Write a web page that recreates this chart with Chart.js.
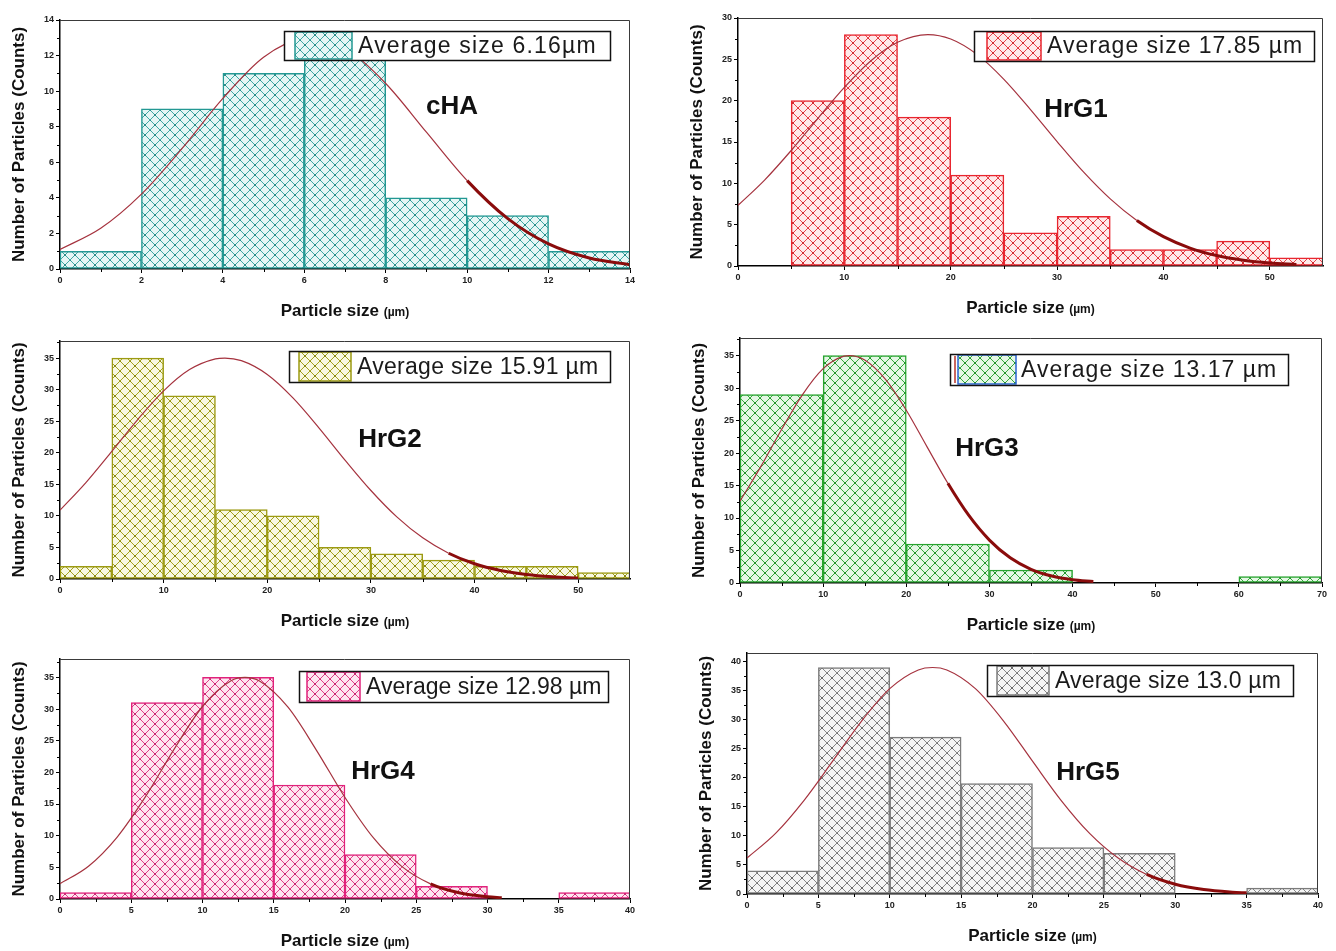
<!DOCTYPE html>
<html>
<head>
<meta charset="utf-8">
<script src="https://cdn.jsdelivr.net/npm/chart.js@4.4.1/dist/chart.umd.min.js"></script>
<style>
  html, body { margin: 0; padding: 0; background: #fff; }
  body { width: 1336px; height: 951px; position: relative; overflow: hidden; }
  canvas { position: absolute; }
</style>
</head>
<body>
<script>
// histogram bins: start of each bin (µm) and particle counts; fit curves
const chaBins = [0, 2, 4, 6, 8, 10, 12];
const chaCounts = [1, 9, 11, 12, 4, 3, 1];
const chaFitX = [0, 1, 2, 3, 4, 5, 6, 6.16, 7, 8, 9, 10, 11, 12, 13, 14];
const chaFitY = [1.10, 2.29, 4.21, 6.78, 9.59, 11.91, 12.98, 13, 12.42, 10.43, 7.69, 4.97, 2.83, 1.41, 0.62, 0.24];

const g1Bins = [5, 10, 15, 20, 25, 30, 35, 40, 45, 50];
const g1Counts = [20, 28, 18, 11, 4, 6, 2, 2, 3, 1];
const g1FitX = [0, 2.5, 5, 7.5, 10, 12.5, 15, 17.85, 20, 22.5, 25, 27.5, 30, 32.5, 35, 37.5, 40, 42.5, 45, 47.5, 50, 52.5];
const g1FitY = [7.33, 10.39, 13.97, 17.84, 21.6, 24.83, 27.06, 28, 27.46, 25.57, 22.58, 18.92, 15.05, 11.35, 8.12, 5.51, 3.55, 2.17, 1.26, 0.69, 0.36, 0.18];

const g2Bins = [0, 5, 10, 15, 20, 25, 30, 35, 40, 45, 50];
const g2Counts = [2, 35, 29, 11, 10, 5, 4, 3, 2, 2, 1];
const g2FitX = [0, 2.5, 5, 7.5, 10, 12.5, 15, 15.91, 17.5, 20, 22.5, 25, 27.5, 30, 32.5, 35, 37.5, 40, 42.5, 45, 47.5, 50];
const g2FitY = [10.9, 15.28, 20.22, 25.26, 29.8, 33.17, 34.87, 35, 34.59, 32.4, 28.65, 23.91, 18.84, 14.02, 9.84, 6.52, 4.08, 2.41, 1.35, 0.71, 0.35, 0.16];

const g3Bins = [0, 10, 20, 30, 60];
const g3Counts = [29, 35, 6, 2, 1];
const g3FitX = [0, 2.5, 5, 7.5, 10, 12.5, 13.17, 15, 17.5, 20, 22.5, 25, 27.5, 30, 32.5, 35, 37.5, 40, 42.5];
const g3FitY = [12.6, 17.9, 23.62, 28.96, 32.99, 34.91, 35, 34.32, 31.34, 26.59, 20.95, 15.34, 10.43, 6.6, 3.87, 2.11, 1.07, 0.5, 0.22];

const g4Bins = [0, 5, 10, 15, 20, 25, 35];
const g4Counts = [1, 31, 35, 18, 7, 2, 1];
const g4FitX = [0, 2, 4, 6, 8, 10, 12, 12.98, 14, 16, 18, 20, 22, 24, 26, 28, 30, 31];
const g4FitY = [2.42, 5.18, 9.75, 16.17, 23.63, 30.4, 34.47, 35, 34.43, 30.29, 23.48, 16.03, 9.64, 5.11, 2.39, 0.98, 0.35, 0.2];

const g5Bins = [0, 5, 10, 15, 20, 25, 35];
const g5Counts = [4, 39, 27, 19, 8, 7, 1];
const g5FitX = [0, 2, 4, 6, 8, 10, 12, 13, 14, 16, 18, 20, 22, 24, 26, 28, 30, 32, 34, 35];
const g5FitY = [6.19, 10.44, 16.14, 22.87, 29.7, 35.36, 38.58, 39, 38.58, 35.36, 29.7, 22.87, 16.14, 10.44, 6.19, 3.36, 1.67, 0.76, 0.32, 0.2];

const FONT = '"Liberation Sans", Arial, sans-serif';

// page layout of each plot box; legend/tag in page pixels
const panels = [
  { tag: 'cHA', bins: chaBins, binW: 2, counts: chaCounts, fitX: chaFitX, fitY: chaFitY, tailFrom: 10,
    avg: 'Average size 6.16µm', color: '#239893', hatch: '#3fa9a5', tint: '#e6f6f5', dot: '#1f7f7b',
    box: { l: 60, r: 630, t: 20, b: 269 }, xMax: 14, xStep: 2, yMax: 14, yStep: 2,
    legend: { l: 284, t: 31, r: 610, b: 60, s0: 295, s1: 352, tx: 358 }, tagAt: { x: 452, y: 107 } },
  { tag: 'HrG1', bins: g1Bins, binW: 5, counts: g1Counts, fitX: g1FitX, fitY: g1FitY, tailFrom: 37.5,
    avg: 'Average size 17.85 µm', color: '#e8262f', hatch: '#e9434a', tint: '#feeaea', dot: '#c41d25',
    box: { l: 738, r: 1323, t: 18, b: 266 }, xMax: 55, xStep: 10, yMax: 30, yStep: 5,
    legend: { l: 974, t: 31, r: 1314, b: 61, s0: 987, s1: 1041, tx: 1047 }, tagAt: { x: 1076, y: 110 } },
  { tag: 'HrG2', bins: g2Bins, binW: 5, counts: g2Counts, fitX: g2FitX, fitY: g2FitY, tailFrom: 37.5,
    avg: 'Average size 15.91 µm', color: '#9c9a12', hatch: '#a4a21f', tint: '#f8f8e2', dot: '#7f7d0c',
    box: { l: 60, r: 630, t: 341, b: 579 }, xMax: 55, xStep: 10, yMax: 37.7, yStep: 5,
    legend: { l: 289, t: 351, r: 610, b: 382, s0: 299, s1: 351, tx: 357 }, tagAt: { x: 390, y: 440 } },
  { tag: 'HrG3', bins: g3Bins, binW: 10, counts: g3Counts, fitX: g3FitX, fitY: g3FitY, tailFrom: 25,
    avg: 'Average size 13.17 µm', color: '#27a32f', hatch: '#34ab3c', tint: '#e6f7e6', dot: '#1b8523',
    swatchEdge: '#2a64d2',
    box: { l: 740, r: 1322, t: 338, b: 583 }, xMax: 70, xStep: 10, yMax: 37.7, yStep: 5,
    legend: { l: 950, t: 354, r: 1288, b: 385, s0: 958, s1: 1016, tx: 1021 }, tagAt: { x: 987, y: 449 } },
  { tag: 'HrG4', bins: g4Bins, binW: 5, counts: g4Counts, fitX: g4FitX, fitY: g4FitY, tailFrom: 26,
    avg: 'Average size 12.98 µm', color: '#e0227b', hatch: '#e23d88', tint: '#fde6f0', dot: '#bd1965',
    box: { l: 60, r: 630, t: 659, b: 899 }, xMax: 40, xStep: 5, yMax: 37.9, yStep: 5,
    legend: { l: 299, t: 671, r: 608, b: 702, s0: 307, s1: 360, tx: 366 }, tagAt: { x: 383, y: 772 } },
  { tag: 'HrG5', bins: g5Bins, binW: 5, counts: g5Counts, fitX: g5FitX, fitY: g5FitY, tailFrom: 28,
    avg: 'Average size 13.0 µm', color: '#7c7c7c', hatch: '#858585', tint: '#f5f5f5', dot: '#5a5a5a',
    box: { l: 747, r: 1318, t: 653, b: 894 }, xMax: 40, xStep: 5, yMax: 41.5, yStep: 5,
    legend: { l: 987, t: 665, r: 1293, b: 696, s0: 997, s1: 1049, tx: 1055 }, tagAt: { x: 1088, y: 773 } }
];

const PAD_L = 60, PAD_T = 20, PAD_R = 15, PAD_B = 55;
const CELL = 10;

function crossHatch(line, tint, dot) {
  const c = document.createElement('canvas');
  c.width = c.height = CELL;
  const g = c.getContext('2d');
  g.fillStyle = tint;
  g.fillRect(0, 0, CELL, CELL);
  g.strokeStyle = line;
  g.lineWidth = 1;
  g.beginPath();
  g.moveTo(-1, -1); g.lineTo(CELL + 1, CELL + 1);
  g.moveTo(-1, CELL + 1); g.lineTo(CELL + 1, -1);
  g.stroke();
  g.fillStyle = dot;
  g.fillRect(CELL / 2 - 0.8, CELL / 2 - 0.8, 1.6, 1.6);
  g.fillRect(0, 0, 0.8, 0.8);
  return g.createPattern(c, 'repeat');
}

// frame, minor ticks, axis titles, legend box and sample name
const decor = {
  id: 'decor',
  afterDraw(chart) {
    const p = chart.options.plugins.decor.panel;
    const ctx = chart.ctx, a = chart.chartArea;
    const xs = chart.scales.x, ys = chart.scales.y;
    const ox = p.box.l - PAD_L, oy = p.box.t - PAD_T;
    ctx.save();

    ctx.strokeStyle = '#3a3a3a';
    ctx.lineWidth = 1;
    ctx.beginPath();
    ctx.moveTo(a.left, a.top + 0.5); ctx.lineTo(a.right - 0.5, a.top + 0.5); ctx.lineTo(a.right - 0.5, a.bottom);
    ctx.stroke();

    ctx.strokeStyle = '#000';
    ctx.beginPath();
    for (let v = p.xStep / 2; v < p.xMax; v += p.xStep) {
      const px = Math.round(xs.getPixelForValue(v)) + 0.5;
      ctx.moveTo(px, a.bottom); ctx.lineTo(px, a.bottom + 3);
    }
    for (let v = p.yStep / 2; v < p.yMax; v += p.yStep) {
      const py = Math.round(ys.getPixelForValue(v)) + 0.5;
      ctx.moveTo(a.left, py); ctx.lineTo(a.left - 3, py);
    }
    ctx.stroke();

    // y title
    ctx.fillStyle = '#111';
    ctx.font = `bold 17px ${FONT}`;
    ctx.textAlign = 'center';
    ctx.textBaseline = 'middle';
    ctx.save();
    ctx.translate(a.left - 41, (a.top + a.bottom) / 2);
    ctx.rotate(-Math.PI / 2);
    ctx.fillText('Number of Particles (Counts)', 0, 0);
    ctx.restore();

    // x title, unit in a smaller face
    const main = 'Particle size ', unit = '(µm)';
    ctx.font = `bold 17px ${FONT}`;
    const w1 = ctx.measureText(main).width;
    ctx.font = `bold 12px ${FONT}`;
    const w2 = ctx.measureText(unit).width;
    const tx = (a.left + a.right) / 2 - (w1 + w2) / 2;
    const ty = a.bottom + 47;
    ctx.textAlign = 'left';
    ctx.textBaseline = 'alphabetic';
    ctx.font = `bold 17px ${FONT}`;
    ctx.fillText(main, tx, ty);
    ctx.font = `bold 12px ${FONT}`;
    ctx.fillText(unit, tx + w1, ty);

    // legend
    const L = p.legend;
    const lx = L.l - ox, ly = L.t - oy, lw = L.r - L.l, lh = L.b - L.t;
    ctx.fillStyle = '#fff';
    ctx.fillRect(lx, ly, lw, lh);
    ctx.fillStyle = chart.data.datasets[1].backgroundColor;
    ctx.fillRect(L.s0 - ox, ly + 1, L.s1 - L.s0, lh - 2);
    ctx.strokeStyle = p.swatchEdge || p.color;
    ctx.lineWidth = 1.5;
    ctx.strokeRect(L.s0 - ox, ly + 1, L.s1 - L.s0, lh - 2);
    if (p.swatchEdge) {
      ctx.strokeStyle = '#b8342a';
      ctx.beginPath();
      ctx.moveTo(L.s0 - ox - 3, ly + 2); ctx.lineTo(L.s0 - ox - 3, ly + lh - 2);
      ctx.stroke();
    }
    ctx.strokeStyle = '#111';
    ctx.lineWidth = 1.5;
    ctx.strokeRect(lx + 0.5, ly + 0.5, lw, lh);

    // spread the caption a little so it fills the box like the original
    ctx.fillStyle = '#1a1a1a';
    ctx.font = `23px ${FONT}`;
    ctx.textBaseline = 'middle';
    const avail = L.r - L.tx - 12;
    const w0 = ctx.measureText(p.avg).width;
    const gap = Math.max(0, Math.min(1.2, (avail - w0) / (p.avg.length - 1)));
    ctx.letterSpacing = gap.toFixed(2) + 'px';
    ctx.fillText(p.avg, L.tx - ox, ly + lh / 2 + 1);
    ctx.letterSpacing = '0px';

    // sample name
    ctx.font = `bold 26px ${FONT}`;
    ctx.textAlign = 'center';
    ctx.fillStyle = '#111';
    ctx.fillText(p.tag, p.tagAt.x - ox, p.tagAt.y - oy);

    ctx.restore();
  }
};

// labelled ticks only at whole steps, never at an odd axis maximum
function stepTicks(step) {
  return scale => {
    const out = [];
    for (let v = 0; v <= scale.max + 1e-9; v += step) out.push({ value: v });
    scale.ticks = out;
  };
}

panels.forEach(p => {
  const cv = document.createElement('canvas');
  const W = (p.box.r - p.box.l) + PAD_L + PAD_R;
  const H = (p.box.b - p.box.t) + PAD_T + PAD_B;
  cv.width = W; cv.height = H;
  cv.style.width = W + 'px'; cv.style.height = H + 'px';
  cv.style.left = (p.box.l - PAD_L) + 'px';
  cv.style.top = (p.box.t - PAD_T) + 'px';
  document.body.appendChild(cv);

  const fill = crossHatch(p.hatch, p.tint, p.dot);
  const tickFont = { family: FONT, size: 9, weight: 'bold' };

  new Chart(cv.getContext('2d'), {
    type: 'bar',
    data: {
      datasets: [
        {
          type: 'line',
          data: p.fitX.map((x, i) => ({ x: x, y: p.fitY[i] })),
          borderColor: '#a5323e',
          borderWidth: 1.2,
          pointRadius: 0,
          cubicInterpolationMode: 'monotone',
          fill: false,
          order: 0,
          segment: {
            borderWidth: c => (c.p0.parsed.x >= p.tailFrom ? 3 : 1.2),
            borderColor: c => (c.p0.parsed.x >= p.tailFrom ? '#8a0c0c' : '#a5323e')
          }
        },
        {
          type: 'bar',
          data: p.bins.map((s, i) => ({ x: s + p.binW / 2, y: p.counts[i] })),
          backgroundColor: fill,
          borderColor: p.color,
          borderWidth: 1.5,
          borderSkipped: false,
          barPercentage: 1,
          categoryPercentage: 1,
          grouped: false,
          order: 1
        }
      ]
    },
    options: {
      responsive: false,
      animation: false,
      devicePixelRatio: 1,
      layout: { padding: { left: 0, top: PAD_T, right: PAD_R, bottom: 0 } },
      plugins: { legend: { display: false }, tooltip: { enabled: false }, decor: { panel: p } },
      scales: {
        x: {
          type: 'linear', min: 0, max: p.xMax, offset: false,
          afterFit: s => { s.height = PAD_B; },
          afterBuildTicks: stepTicks(p.xStep),
          ticks: { stepSize: p.xStep, autoSkip: false, maxRotation: 0, padding: 2, color: '#222', font: tickFont },
          grid: { display: true, drawOnChartArea: false, drawTicks: true, tickLength: 4, color: '#000', offset: false },
          border: { display: true, color: '#000', width: 1.5 }
        },
        y: {
          type: 'linear', min: 0, max: p.yMax,
          afterFit: s => { s.width = PAD_L; },
          afterBuildTicks: stepTicks(p.yStep),
          ticks: { stepSize: p.yStep, padding: 2, color: '#222', font: tickFont },
          grid: { display: true, drawOnChartArea: false, drawTicks: true, tickLength: 4, color: '#000' },
          border: { display: true, color: '#000', width: 1.5 }
        }
      }
    },
    plugins: [decor]
  });
});
</script>
</body>
</html>
